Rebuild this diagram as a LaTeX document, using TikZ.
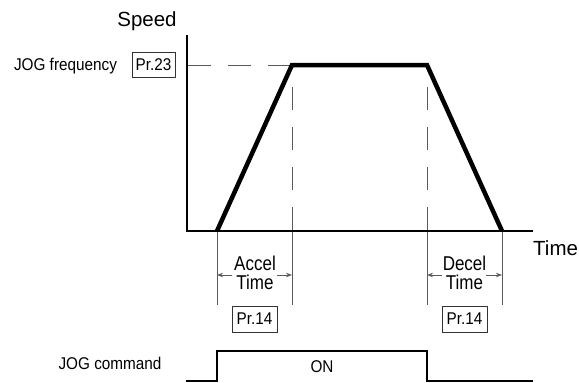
\documentclass[tikz,border=0pt]{standalone}
\usepackage{fontspec}
\usepackage{graphicx}
\setmainfont{Liberation Sans}
\usetikzlibrary{arrows.meta}
\definecolor{guide}{HTML}{5A5A5A}
\definecolor{boxline}{HTML}{333333}
\newcommand{\nrw}[2][0.9]{\scalebox{#1}[1]{#2}}
\tikzset{
  bigtxt/.style={inner sep=0pt, anchor=base, font=\fontsize{20.5}{24}\selectfont},
  smalltxt/.style={inner sep=0pt, anchor=base, font=\fontsize{17}{20}\selectfont},
  midtxt/.style={inner sep=0pt, anchor=base, font=\fontsize{20}{24}\selectfont},
  prbox/.style={draw=boxline, line width=0.9pt, minimum height=25pt, inner sep=0pt, font=\fontsize{17}{20}\selectfont},
  axisline/.style={line width=2.2pt, black},
  curve/.style={line width=4.5pt, black, line join=miter},
  signal/.style={line width=2.6pt, black, line join=miter},
  guidedash/.style={line width=1pt, guide, dash pattern=on 23pt off 17pt},
  guidesolid/.style={line width=1pt, guide},
  dimarrow/.style={line width=1pt, guide, -{Stealth[length=6pt,width=4.5pt]}}
}
\begin{document}
\begin{tikzpicture}[x=1pt,y=-1pt]
\useasboundingbox (0,0) rectangle (579,383);
% key points
\coordinate (O) at (187,231);
\coordinate (ytop) at (187,35);
\coordinate (xend) at (533,231);
\coordinate (p1) at (217,231);
\coordinate (p2) at (292,65);
\coordinate (p3) at (427,65);
\coordinate (p4) at (502,231);
\coordinate (h0) at (188,65);
\coordinate (d2) at (292,87);
\coordinate (d3) at (427,87);
\coordinate (a2) at (292,231);
\coordinate (a3) at (427,231);
\coordinate (b1) at (217,305);
\coordinate (b2) at (292,305);
\coordinate (b3) at (427,305);
\coordinate (b4) at (502,305);
% labels
\node[bigtxt] (speed) at (147,26.5) {Speed};
\node[bigtxt, anchor=base west] (time) at (533,255) {Time};
\node[smalltxt] (jogf) at (65.5,70) {\nrw{JOG frequency}};
\node[prbox, minimum width=43pt] (pr23) at (153.5,64.5) {\nrw{Pr.23}};
% guide lines
\draw[guidedash] (h0) -- (p2);
\draw[guidedash] (d2) -- (a2);
\draw[guidedash] (d3) -- (a3);
\draw[guidesolid] (p1) -- (b1);
\draw[guidesolid] (a2) -- (b2);
\draw[guidesolid] (a3) -- (b3);
\draw[guidesolid] (p4) -- (b4);
% axes
\draw[axisline] (ytop) -- (O) -- (xend);
% speed curve
\draw[curve] (p1) -- (p2) -- (p3) -- (p4);
% accel / decel dimensions
\node[midtxt] (accel) at (255,270.7) {\nrw[0.85]{Accel}};
\node[midtxt] (acceltime) at (255,289) {\nrw[0.85]{Time}};
\node[midtxt] (decel) at (464.5,270.7) {\nrw[0.85]{Decel}};
\node[midtxt] (deceltime) at (464.5,289) {\nrw[0.85]{Time}};
\coordinate (aL) at (217,275);
\coordinate (aR) at (292,275);
\coordinate (dL) at (427,275);
\coordinate (dR) at (502,275);
\draw[dimarrow] (acceltime.west |- aL) ++(-4,0) -- (aL);
\draw[dimarrow] (acceltime.east |- aR) ++(3,0) -- (aR);
\draw[dimarrow] (deceltime.west |- dL) ++(-4,0) -- (dL);
\draw[dimarrow] (deceltime.east |- dR) ++(3,0) -- (dR);
\node[prbox, minimum width=45pt, minimum height=26pt] (pr14a) at (254.5,319) {\nrw{Pr.14}};
\node[prbox, minimum width=45pt, minimum height=26pt] (pr14b) at (464.5,319) {\nrw{Pr.14}};
% JOG command signal
\node[smalltxt] (jogc) at (110,369) {\nrw{JOG command}};
\coordinate (s0) at (186,381);
\coordinate (s1) at (217,381);
\coordinate (s2) at (217,351);
\coordinate (s3) at (427,351);
\coordinate (s4) at (427,381);
\coordinate (s5) at (533,381);
\draw[signal] (s0) -- (s1) -- (s2) -- (s3) -- (s4) -- (s5);
\node[smalltxt] (on) at (322,372) {\nrw{ON}};
\end{tikzpicture}
\end{document}
